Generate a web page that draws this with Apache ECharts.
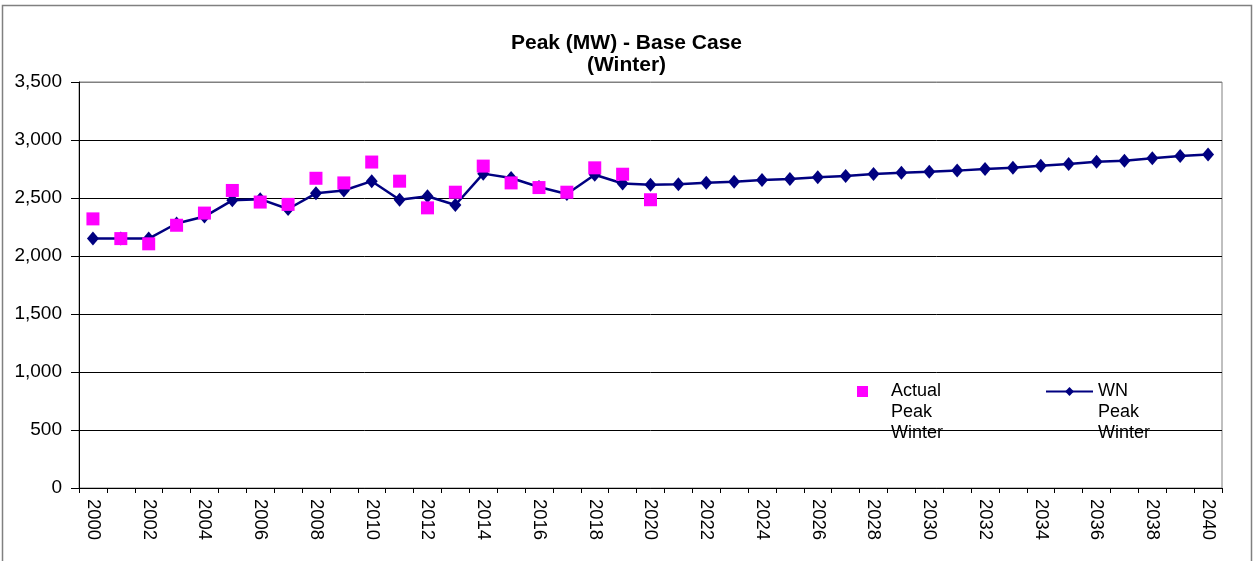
<!DOCTYPE html>
<html>
<head>
<meta charset="utf-8">
<script src="https://cdn.jsdelivr.net/npm/echarts@6/dist/echarts.min.js"></script>
<style>
html,body{margin:0;padding:0;background:#fff;}
#chart{width:1253px;height:561px;}
</style>
</head>
<body>
<div id="chart"></div>
<script>
var years = [];
for (var y = 2000; y <= 2040; y++) years.push(String(y));

var actualPeakWinter = [2320, 2150, 2105, 2265, 2370, 2565, 2465, 2445, 2670, 2630,
  2810, 2645, 2415, 2550, 2775, 2630, 2590, 2550, 2760, 2705, 2485,
  null, null, null, null, null, null, null, null, null, null,
  null, null, null, null, null, null, null, null, null, null];

var wnPeakWinter = [2150, 2150, 2150, 2280, 2340, 2480, 2490, 2405, 2540, 2565,
  2645, 2485, 2515, 2440, 2710, 2672, 2595, 2535, 2700, 2625, 2615,
  2618, 2632, 2641, 2655, 2664, 2678, 2690, 2707, 2718, 2727,
  2736, 2750, 2761, 2779, 2793, 2813, 2822, 2842, 2862, 2876];

var titleText = 'Peak (MW) - Base Case\n(Winter)';
var seriesNames = ['Actual\nPeak\nWinter', 'WN\nPeak\nWinter'];

var FONT = 'Liberation Sans, Arial, sans-serif';
function legendFmt(name) { return '\n\n' + name; }

var chart = echarts.init(document.getElementById('chart'));
chart.setOption({
  animation: false,
  backgroundColor: '#fff',
  title: {
    text: titleText,
    left: 'center',
    top: 27,
    textStyle: {fontFamily: FONT, fontSize: 21, fontWeight: 'bold', color: '#000', lineHeight: 22}
  },
  graphic: [{
    type: 'rect',
    shape: {x: 2.5, y: 5.5, width: 1249, height: 560},
    style: {fill: 'none', stroke: '#808080', lineWidth: 1.5},
    silent: true
  }],
  legend: [{
    data: [seriesNames[0]],
    left: 857,
    top: 339,
    padding: 0,
    icon: 'rect',
    itemWidth: 11,
    itemHeight: 11,
    formatter: legendFmt,
    textStyle: {fontFamily: FONT, fontSize: 18, color: '#000', lineHeight: 21, padding: [0, 0, 0, 18]}
  }, {
    data: [seriesNames[1]],
    left: 1045,
    top: 339,
    padding: 0,
    itemWidth: 47,
    itemHeight: 11,
    formatter: legendFmt,
    textStyle: {fontFamily: FONT, fontSize: 18, color: '#000', lineHeight: 21}
  }],
  grid: {left: 79, right: 31, top: 82, bottom: 73, show: true, borderColor: '#808080', borderWidth: 1},
  xAxis: {
    type: 'category',
    data: years,
    boundaryGap: true,
    axisLine: {lineStyle: {color: '#000', width: 1}},
    axisTick: {show: true, interval: 0, length: 5, lineStyle: {color: '#000'}},
    axisLabel: {interval: 1, rotate: -90, margin: 11, fontFamily: FONT, fontSize: 18.5, color: '#000'},
    splitLine: {show: false}
  },
  yAxis: {
    type: 'value',
    min: 0,
    max: 3500,
    interval: 500,
    axisLine: {show: true, lineStyle: {color: '#000', width: 1}},
    axisTick: {show: true, length: 8, lineStyle: {color: '#000'}},
    axisLabel: {
      margin: 17, fontFamily: FONT, fontSize: 19, color: '#000',
      formatter: function (v) { return v.toLocaleString('en-US'); }
    },
    splitLine: {show: true, lineStyle: {color: ['#000', '#000', '#000', '#000', '#000', '#000', '#000', '#808080'], width: 1}}
  },
  series: [{
    name: seriesNames[0],
    type: 'scatter',
    data: actualPeakWinter,
    symbol: 'rect',
    symbolSize: 13,
    itemStyle: {color: '#FF00FF', opacity: 1},
    z: 3
  }, {
    name: seriesNames[1],
    type: 'line',
    data: wnPeakWinter,
    symbol: 'diamond',
    symbolSize: [12, 14],
    showAllSymbol: true,
    lineStyle: {color: '#000080', width: 2.5},
    itemStyle: {color: '#000080', opacity: 1},
    z: 2
  }]
});
</script>
</body>
</html>
